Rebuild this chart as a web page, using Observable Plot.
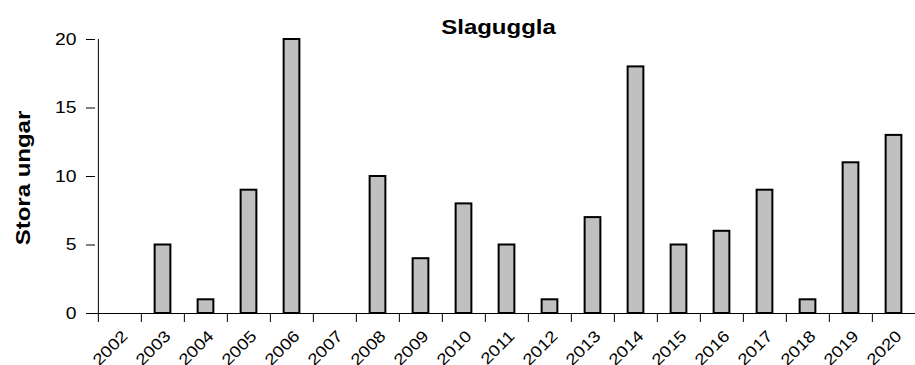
<!DOCTYPE html>
<html>
<head>
<meta charset="utf-8">
<script src="https://cdn.jsdelivr.net/npm/d3@7"></script>
<script src="https://cdn.jsdelivr.net/npm/@observablehq/plot@0.6"></script>
<style>
  html, body { margin: 0; padding: 0; background: white; overflow: hidden; }
</style>
</head>
<body>
<div id="chart"></div>
<script>
const title = "Slaguggla";
const yLabel = "Stora ungar";
const years = ["2002","2003","2004","2005","2006","2007","2008","2009","2010","2011","2012","2013","2014","2015","2016","2017","2018","2019","2020"];
const counts = [0,5,1,9,20,0,10,4,8,5,1,7,18,5,6,9,1,11,13];
const yTicks = [0,5,10,15,20];

const data = years.map((year, i) => ({year, count: counts[i]}));

const W = 915, H = 365;
const plotLeft = 95, plotRight = 917, plotTop = 39, plotBottom = 313;
const step = (plotRight - plotLeft) / years.length;
const barW = 16;
const inset = (step - barW) / 2;

const chart = Plot.plot({
  width: W,
  height: H,
  marginLeft: plotLeft,
  marginRight: W - plotRight,
  marginTop: plotTop,
  marginBottom: H - plotBottom,
  style: {fontFamily: "'Liberation Sans', Arial, sans-serif", fontSize: "16.5px", color: "black", background: "white", overflow: "visible"},
  x: {domain: years, range: [plotLeft, plotRight], paddingInner: 0, paddingOuter: 0, axis: null},
  y: {domain: [0, 20], range: [plotBottom, plotTop], axis: null},
  marks: [
    Plot.barY(data, {filter: d => d.count > 0, x: "year", y: "count", fill: "#c0c0c0", stroke: "black", strokeWidth: 2, insetLeft: inset, insetRight: inset}),
    Plot.ruleY([0], {stroke: "black", strokeWidth: 1}),
    Plot.ruleX([years[0]], {dx: -step / 2, stroke: "black", strokeWidth: 1}),
    Plot.axisX({ticks: years, tickSize: 9, tickFormat: () => "", label: null, dx: -step / 2, stroke: "black", strokeOpacity: 1}),
    Plot.text(years, {x: d => d, frameAnchor: "bottom", rotate: -45, textAnchor: "end", lineAnchor: "middle", dx: 5, dy: 20, fontSize: 16, fill: "black"}),
    Plot.axisY({ticks: yTicks, tickSize: 9, tickPadding: 10, stroke: "black", strokeOpacity: 1, fill: "black", label: null}),
    Plot.text([title], {frameAnchor: "top", lineAnchor: "middle", dx: -8, dy: -12, fontSize: 20.5, fontWeight: "bold", fill: "black"}),
    Plot.text([yLabel], {frameAnchor: "left", rotate: -90, textAnchor: "middle", lineAnchor: "middle", dx: -72, dy: 1.5, fontSize: 20.5, fontWeight: "bold", fill: "black"})
  ]
});

// stretch glyphs horizontally along the text direction
const k = 1.17;
chart.querySelectorAll("text").forEach(t => {
  const tr = t.getAttribute("transform") || "";
  t.setAttribute("transform", `${tr} scale(${k},1)`);
});

document.getElementById("chart").appendChild(chart);
</script>
</body>
</html>
